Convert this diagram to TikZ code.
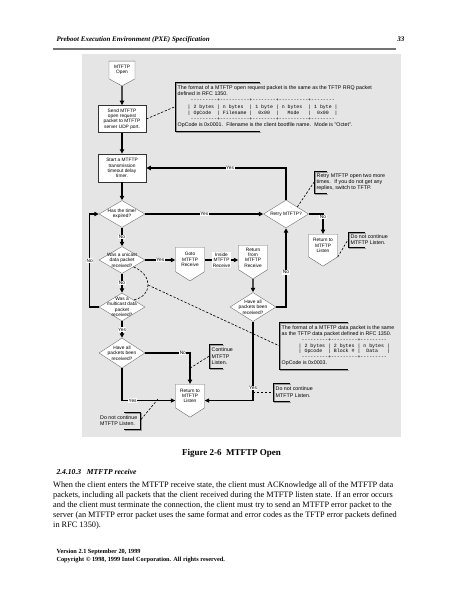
\documentclass[tikz,border=0pt]{standalone}
\usepackage{fontspec}
\setmainfont{Liberation Serif}
\setmonofont{Liberation Mono}
\newfontfamily\chartfont{Liberation Sans}
\usetikzlibrary{shapes.geometric, shapes.symbols, arrows.meta, positioning}
\newcommand{\chartsize}{\chartfont\fontsize{4.8}{5.3}\selectfont}
\newcommand{\notesize}{\chartfont\fontsize{5.3}{6.3}\selectfont}
\newcommand{\pkt}[1]{{\ttfamily\fontsize{4.9}{6}\selectfont #1}}

\begin{document}
\begin{tikzpicture}[x=1pt, y=-1pt, >={Triangle[length=4.5pt,width=4.2pt]},
    proc/.style={rectangle, draw=black!80, fill=white, line width=0.5pt,
      minimum width=48pt, minimum height=27pt, inner sep=0.5pt, align=center, font=\chartsize},
    test/.style={diamond, draw=black!55, fill=white, line width=0.4pt,
      minimum width=46pt, minimum height=28pt, inner sep=0pt},
    testtext/.style={align=center, font=\chartsize, inner sep=0pt},
    offpage/.style={signal, signal to=south, signal from=nowhere, signal pointer angle=115,
      draw=black!60, fill=white, line width=0.4pt, minimum width=29pt, minimum height=29pt,
      inner sep=0pt, align=center, font=\chartsize, anchor=north},
    note/.style={anchor=north west, inner xsep=2.5pt, inner ysep=0.8pt, align=left, font=\notesize},
    bracket/.style={line width=0.7pt, preaction={draw=black!40, line width=1pt,
      transform canvas={shift={(1.2pt,-1.2pt)}}}},
    flow/.style={->, line width=1.1pt},
    hint/.style={line width=0.6pt, dash pattern=on 2.4pt off 1.6pt},
    lbl/.style={fill=white, inner sep=0.5pt, align=center, font=\chartsize}]
  \useasboundingbox (0,0) rectangle (463,599);

  % page head
  \node[anchor=base west, font=\fontsize{7}{8}\selectfont\bfseries\itshape] (head) at (53,42)
    {Preboot Execution Environment (PXE) Specification};
  \node[anchor=base east, font=\fontsize{7}{8}\selectfont\bfseries\itshape] (pageno) at (408,42) {33};
  \draw[black!55, line width=1.3pt] (53,49) -- (396,49);

  % figure
  \fill[black!10] (82,54) rectangle (401,437);

  \node[offpage, signal pointer angle=123, minimum width=26pt, minimum height=22pt] (open) at (122,61) {MTFTP\\Open};
  \node[proc] (send) at (122,119) {Send MTFTP\\open request\\packet to MTFTP\\server UDP port.};
  \node[proc, minimum height=28pt] (timer) at (122,168) {Start a MTFTP\\transmission\\timeout delay\\timer.};
  \node[test, minimum height=27pt, label={[testtext]center:Has the timer\\expired?}] (expired) at (122,214) {};
  \node[test, minimum height=27pt, label={[testtext]center:Was a unicast\\data packet\\received?}] (unicast) at (122,260) {};
  \node[test, label={[testtext]center:Was a\\multicast data\\packet\\received?}] (multicast) at (122,307) {};
  \node[test, minimum height=30pt, label={[testtext]center:Have all\\packets been\\received?}] (allrecv1) at (122,353) {};

  \node[offpage, minimum height=30pt] (goto) at (190,247) {Goto\\MTFTP\\Receive};
  \node[offpage, minimum height=30pt] (retfrom) at (253,245) {Return\\from\\MTFTP\\Receive};
  \node[test, minimum height=29pt, label={[testtext]center:Have all\\packets been\\received?}] (allrecv2) at (253,307) {};
  \node[test, minimum width=45pt, label={[testtext]center:Retry MTFTP?}] (retry) at (286,214) {};
  \node[offpage] (listen1) at (323,234) {Return to\\MTFTP\\Listen};
  \node[offpage, minimum height=30pt] (listen2) at (190,384) {Return to\\MTFTP\\Listen};

  % notes
  \node[note, minimum height=49pt] (a1) at (175,82) {The format of a MTFTP open request packet is the same as the TFTP RRQ packet\\
    defined in RFC 1350.\\
    \hspace*{10pt}\pkt{~---------+----------+--------+----------+--------~}\\
    \hspace*{10pt}\pkt{|~2~bytes~|~n~bytes~~|~1~byte~|~n~bytes~~|~1~byte~|}\\
    \hspace*{10pt}\pkt{|~OpCode~~|~Filename~|~~0x00~~|~~~Mode~~~|~~0x00~~|}\\
    \hspace*{10pt}\pkt{~---------+----------+--------+----------+--------~}\\
    OpCode is 0x0001.~ Filename is the client bootfile name.~ Mode is "Octet".};
  \node[note, minimum height=22pt] (a2) at (314,171) {Retry MTFTP open two more\\times.~ If you do not get any\\replies, switch to TFTP.};
  \node[note, minimum height=15pt] (a3) at (348,232) {Do not continue\\MTFTP Listen.};
  \node[note, minimum height=47pt, font=\chartfont\fontsize{5.3}{5.9}\selectfont] (a4) at (279,322)
    {The format of a MTFTP data packet is the same\\
    as the TFTP data packet defined in RFC 1350.\\
    \hspace*{17pt}\pkt{~---------+---------+---------~}\\
    \hspace*{17pt}\pkt{|~2~bytes~|~2~bytes~|~n~bytes~|}\\
    \hspace*{17pt}\pkt{|~Opcode~~|~Block~\#~|~~Data~~~|}\\
    \hspace*{17pt}\pkt{~---------+---------+---------~}\\
    OpCode is 0x0003.};
  \node[note, minimum height=24pt] (a5) at (209,344) {Continue\\MTFTP\\Listen.};
  \node[note, minimum height=18pt] (a6) at (273,383) {Do not continue\\MTFTP Listen.};
  \node[note, anchor=north east, minimum height=17pt] (a7) at (140,412) {Do not continue\\MTFTP Listen.};

  \draw[bracket] (a1.north west) ++(85,0) -- (a1.north west) -- (a1.south west) -- ++(85,0);
  \draw[bracket] (a2.north west) ++(13,0) -- (a2.north west) -- (a2.south west) -- ++(13,0);
  \draw[bracket] (a3.north west) ++(17,0) -- (a3.north west) -- (a3.south west) -- ++(17,0);
  \draw[bracket] (a4.north west) ++(69,0) -- (a4.north west) -- (a4.south west) -- ++(69,0);
  \draw[bracket] (a5.north west) ++(14,0) -- (a5.north west) -- (a5.south west) -- ++(14,0);
  \draw[bracket] (a6.north west) ++(17,0) -- (a6.north west) -- (a6.south west) -- ++(17,0);
  \draw[bracket] (a7.north east) ++(-16,0) -- (a7.north east) -- (a7.south east) -- ++(-16,0);

  % flow
  \draw[flow] (open) -- (send);
  \draw[flow] (send) -- (timer);
  \draw[flow] (timer) -- (expired);
  \draw[flow] (expired) -- node[lbl] {No} (unicast);
  \draw[flow] (unicast) -- node[lbl] {No} (multicast);
  \draw[flow] (multicast) -- node[lbl] {Yes} (allrecv1);
  \draw[flow] (expired) -- node[lbl] {Yes} (retry);
  \draw[flow] (unicast.east) -- node[lbl] {Yes} (unicast.east -| goto.west);
  \draw[flow] (unicast.east -| goto.east) -- node[lbl] {Inside\\MTFTP\\Receive} (unicast.east -| retfrom.west);
  \draw[flow] (retfrom) -- (allrecv2);
  \draw[flow] (allrecv2.east) -| node[lbl, pos=0.72] {No} (retry.south);
  \draw[flow] (retry.north) |- node[lbl, pos=0.7] {Yes} (timer.east);
  \draw[flow] (retry.east) -| node[lbl, pos=0.58] {No} (listen1.north);
  \draw[flow] (allrecv2.south) |- node[lbl, pos=0.42] {Yes} ([yshift=-4.5pt]listen2.east);
  \draw[flow] (allrecv1.east) -| node[lbl, pos=0.42] {No} (listen2.north);
  \draw[flow] (allrecv1.south) |- node[lbl, pos=0.6] {Yes} ([yshift=-4.5pt]listen2.west);
  \draw[flow] (multicast.west) -- ++(-9,0) |- node[lbl, pos=0.25] {No} (expired.west);

  % note links
  \coordinate (arc) at (148,285);
  \coordinate (c5) at (listen2.north |- allrecv1.south);
  \coordinate (c6) at (158,399);
  \coordinate (c7) at (allrecv2.south |- a6.west);
  \draw[hint] (send.east) -- (a1.west);
  \draw[hint] (retry.north east) -- (a2.west);
  \draw[hint] (listen1.south east) -- (a3.west);
  \draw[hint] (unicast.south east) .. controls (145,272) and (148,279) .. (arc)
    .. controls (148,292) and (143,298) .. (multicast.north east);
  \draw[hint] (arc) -- (a4.west);
  \draw[hint] (c5) -- (a5.west);
  \draw[hint] (c6) -- (a7.east);
  \draw[hint] (c7) -- (a6.west);

  % text below the figure
  \node[anchor=base, font=\fontsize{9}{10}\selectfont\bfseries] (caption) at (231.5,455) {Figure 2-6~ MTFTP Open};
  \node[anchor=base west, font=\fontsize{7.6}{9}\selectfont\bfseries\itshape] (section) at (53,474) {2.4.10.3~~ MTFTP receive};
  \node[anchor=north west, inner sep=0pt, align=left, font=\fontsize{8.3}{10}\selectfont] (body) at (53,481)
    {When the client enters the MTFTP receive state, the client must ACKnowledge all of the MTFTP data\\
     packets, including all packets that the client received during the MTFTP listen state. If an error occurs\\
     and the client must terminate the connection, the client must try to send an MTFTP error packet to the\\
     server (an MTFTP error packet uses the same format and error codes as the TFTP error packets defined\\
     in RFC 1350).};
  \node[anchor=base west, font=\fontsize{6.3}{8}\selectfont\bfseries] (version) at (53,553) {Version 2.1 September 20, 1999};
  \node[anchor=base west, font=\fontsize{6.3}{8}\selectfont\bfseries] (copyright) at (53,561)
    {Copyright \textcopyright{} 1998, 1999 Intel Corporation. All rights reserved.};
\end{tikzpicture}
\end{document}
